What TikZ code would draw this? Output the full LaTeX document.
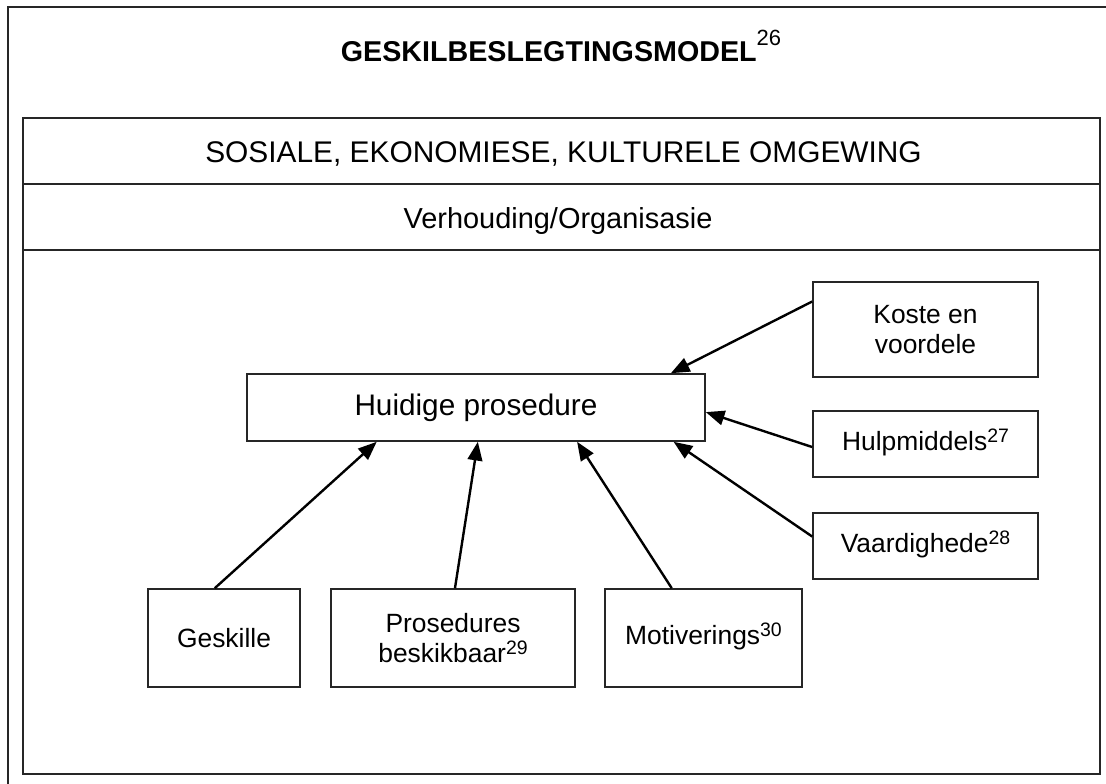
\documentclass[tikz,border=0pt]{standalone}
\usepackage{fontspec}
\setmainfont{Liberation Sans}
\usetikzlibrary{calc,arrows.meta}
\newcommand\supnum[1]{\smash{\raisebox{6pt}{\fontsize{14.6pt}{15pt}\selectfont #1}}}
\begin{document}
\begin{tikzpicture}[x=0.75pt,y=-0.75pt,
  frame/.style={draw=black!85,line width=1.2pt},
  box/.style={draw=black!85,line width=1.2pt,inner sep=0pt,align=center,
    font=\fontsize{19.8pt}{22.5pt}\selectfont},
  arr/.style={line width=1.8pt,-{Triangle[length=14pt,width=11pt]}},
  lbl/.style={inner sep=0pt,anchor=base}]
\useasboundingbox (0,0) rectangle (1106,784);
\fill[white] (0,0) rectangle (1106,784);
% frames
\draw[frame] (8,784) -- (8,7) -- (1106,7);
\draw[frame] (23,118) rectangle (1100,774);
\draw[frame] (23,184) -- (1100,184);
\draw[frame] (23,250) -- (1100,250);
% headings
\node[lbl] (title) at (561,62) {\fontsize{21.5pt}{24pt}\selectfont\bfseries GESKILBESLEGTINGSMODEL\smash{\raisebox{12.5pt}{\fontsize{16.5pt}{17pt}\selectfont\mdseries 26}}};
\node[lbl] (env) at (563.5,163) {\fontsize{22.4pt}{24pt}\selectfont SOSIALE, EKONOMIESE, KULTURELE OMGEWING};
\node[lbl] (org) at (558,229) {\fontsize{21.7pt}{24pt}\selectfont Verhouding/Organisasie};
% boxes
\node[box,minimum width=343.5pt,minimum height=50.25pt,font=\fontsize{22.3pt}{24pt}\selectfont] (hp) at (476,407.5) {Huidige prosedure};
\node[box,minimum width=168.75pt,minimum height=71.25pt] (koste) at (925.5,329.5) {Koste en\\voordele};
\node[box,minimum width=168.75pt,minimum height=49.5pt] (hulp) at (925.5,444) {Hulpmiddels\supnum{27}};
\node[box,minimum width=168.75pt,minimum height=49.5pt] (vaard) at (925.5,546) {Vaardighede\supnum{28}};
\node[box,minimum width=114pt,minimum height=73.5pt] (gesk) at (224,638) {Geskille};
\node[box,minimum width=183pt,minimum height=73.5pt] (pros) at (453,638) {Prosedures\\beskikbaar\supnum{29}};
\node[box,minimum width=147.75pt,minimum height=73.5pt] (motiv) at (703.5,638) {Motiverings\supnum{30}};
% arrows
\draw[arr] ($(koste.north west)!0.21!(koste.south west)$) -- ($(hp.north west)!0.924!(hp.north east)$);
\draw[arr] ($(hulp.north west)!0.545!(hulp.south west)$) -- ($(hp.north east)!0.567!(hp.south east)$);
\draw[arr] ($(vaard.north west)!0.36!(vaard.south west)$) -- ($(hp.south west)!0.93!(hp.south east)$);
\draw[arr] ($(motiv.north west)!0.34!(motiv.north east)$) -- ($(hp.south west)!0.72!(hp.south east)$);
\draw[arr] ($(pros.north west)!0.508!(pros.north east)$) -- ($(hp.south west)!0.504!(hp.south east)$);
\draw[arr] ($(gesk.north west)!0.44!(gesk.north east)$) -- ($(hp.south west)!0.284!(hp.south east)$);
\end{tikzpicture}
\end{document}
